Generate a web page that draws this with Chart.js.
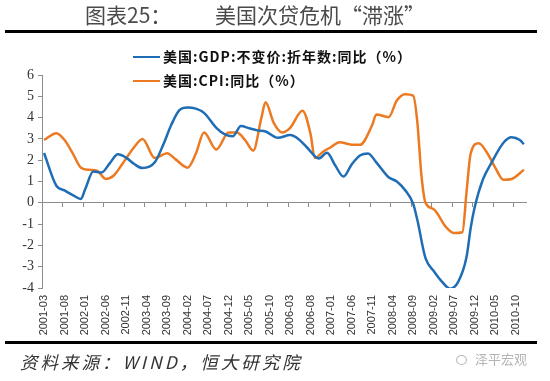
<!DOCTYPE html>
<html lang="zh-CN">
<head>
    <meta charset="utf-8">
    <title>美国次贷危机“滞涨”</title>

    <!-- JS -->
    <script src="https://cdn.jsdelivr.net/npm/chart.js"></script>

    <style>
        body {
            margin: 0;
            width: 550px;
            height: 381px;
            position: relative;
            overflow: hidden;
            background: #fff;
            font-family: "Noto Sans CJK SC", sans-serif;
        }
        #myChart { position: absolute; left: 0; top: 0; }
        .title { position: absolute; top: 0; font-size: 21px; line-height: 28px; color: #4a4a4a; white-space: nowrap; }
        .rule { position: absolute; left: 5px; width: 532px; height: 3px; background: #000; }
        .leg { position: absolute; left: 133px; height: 20px; line-height: 20px; font-size: 14px; font-weight: bold; letter-spacing: 1px; color: #111; white-space: nowrap; z-index: 2; }
        .leg i { display: inline-block; width: 27px; height: 2.5px; margin-right: 3px; vertical-align: middle; position: relative; top: -1px; }
        #source { position: absolute; left: 20px; top: 350px; font-size: 17.5px; line-height: 24px; letter-spacing: 3px; font-style: italic; color: #333; white-space: nowrap; }
        #mark { position: absolute; left: 456px; top: 350px; font-size: 13px; line-height: 18px; color: #b4b4b4; white-space: nowrap; }
        #mark b { display: inline-block; width: 9px; height: 8px; border: 1px solid #bbb; border-radius: 50%; margin-right: 8px; vertical-align: middle; font-weight: normal; }
    </style>
</head>
<body>
    <canvas id="myChart" width="550" height="381"></canvas>

    <div class="title" style="left:85px">图表25：</div>
    <div class="title" style="left:215px">美国次贷危机“滞涨”</div>
    <div class="rule" style="top:30px"></div>

    <div class="leg" id="leg1" style="top:46px"></div>
    <div class="leg" id="leg2" style="top:70px"></div>

    <div class="rule" style="top:341px"></div>
    <div id="source">资料来源：WIND，恒大研究院</div>
    <div id="mark"><b></b>泽平宏观</div>

    <script>
        // monthly categories, 2001-03 .. 2010-12
        var firstMonth = [2001, 3];
        var monthCount = 118;
        var months = [];
        for (var i = 0; i < monthCount; i++) {
            var t = firstMonth[1] - 1 + i;
            var yr = firstMonth[0] + Math.floor(t / 12);
            var mo = (t % 12) + 1;
            months.push(yr + "-" + (mo < 10 ? "0" + mo : mo));
        }
        var labelEvery = 5;

        var yTicks = [-4, -3, -2, -1, 0, 1, 2, 3, 4, 5, 6];

        // GDP (constant price, annualized, yoy %)
        var gdpMonths = ["2001-03","2001-06","2001-08","2001-10","2001-12","2002-01","2002-03","2002-05",
            "2002-07","2002-09","2002-11","2003-01","2003-03","2003-06","2003-08","2003-10","2003-12",
            "2004-02","2004-04","2004-06","2004-09","2004-11","2005-01","2005-03","2005-05","2005-07",
            "2005-09","2005-12","2006-03","2006-05","2006-07","2006-10","2006-12","2007-02","2007-04",
            "2007-06","2007-08","2007-10","2007-12","2008-03","2008-05","2008-07","2008-09","2008-10",
            "2008-12","2009-02","2009-04","2009-06","2009-08","2009-10","2009-11","2009-12","2010-02",
            "2010-04","2010-07","2010-09","2010-11","2010-12"];
        var gdpValues = [2.34, 0.8, 0.58, 0.36, 0.18, 0.62, 1.47, 1.42,
            1.85, 2.28, 2.12, 1.82, 1.63, 1.9, 2.7, 3.65, 4.35,
            4.48, 4.42, 4.22, 3.52, 3.22, 3.12, 3.6, 3.5, 3.4,
            3.35, 3.05, 3.18, 3.0, 2.62, 2.08, 2.35, 1.75, 1.23,
            1.8, 2.22, 2.32, 1.9, 1.2, 1.0, 0.6, -0.05, -0.8,
            -2.6, -3.2, -3.7, -4.03, -3.7, -2.55, -1.2, -0.2, 1.1,
            1.85, 2.82, 3.08, 2.95, 2.75];

        // CPI yoy %
        var cpiMonths = ["2001-03","2001-06","2001-08","2001-10","2001-12","2002-02","2002-04","2002-06",
            "2002-08","2002-10","2003-01","2003-03","2003-06","2003-09","2003-11","2004-02","2004-04",
            "2004-06","2004-09","2004-12","2005-02","2005-04","2005-06","2005-08","2005-09","2005-11",
            "2006-01","2006-03","2006-06","2006-08","2006-09","2006-11","2007-01","2007-03","2007-06",
            "2007-08","2007-11","2007-12","2008-03","2008-05","2008-07","2008-09","2008-10","2008-11",
            "2008-12","2009-02","2009-05","2009-07","2009-09","2009-10","2009-11","2010-01","2010-03",
            "2010-05","2010-07","2010-09","2010-12"];
        var cpiValues = [2.95, 3.27, 2.95, 2.32, 1.65, 1.55, 1.5, 1.12,
            1.28, 1.8, 2.62, 3.0, 2.1, 2.33, 2.05, 1.65, 2.3,
            3.3, 2.5, 3.3, 3.3, 2.95, 2.45, 4.0, 4.72, 3.75,
            3.3, 3.52, 4.32, 3.2, 2.1, 2.4, 2.62, 2.84, 2.73,
            2.72, 3.65, 4.15, 4.02, 4.8, 5.1, 5.03, 3.8, 1.3,
            0.0, -0.3, -1.14, -1.42, -1.38, 0.5, 2.3, 2.8, 2.35,
            1.65, 1.08, 1.12, 1.55];

        var seriesNames = ["美国:GDP:不变价:折年数:同比（%）", "美国:CPI:同比（%）"];
        var seriesColors = ["#1f6db4", "#ec7a22"];

        function pairs(ms, vs) {
            return ms.map(function (m, k) { return { x: m, y: vs[k] }; });
        }

        // tick marks on the zero line sit on category boundaries before every labelled month
        var zeroTicks = [];
        for (var k = labelEvery; k < monthCount; k += labelEvery) zeroTicks.push(k - 0.5);

        var ctx = document.getElementById("myChart").getContext("2d");
        var myChart = new Chart(ctx, {
            type: "line",
            data: {
                labels: months,
                datasets: [{
                    label: seriesNames[0],
                    data: pairs(gdpMonths, gdpValues),
                    borderColor: seriesColors[0],
                    borderWidth: 2.5,
                    pointRadius: 0,
                    cubicInterpolationMode: "monotone",
                    fill: false
                }, {
                    label: seriesNames[1],
                    data: pairs(cpiMonths, cpiValues),
                    borderColor: seriesColors[1],
                    borderWidth: 2.5,
                    pointRadius: 0,
                    cubicInterpolationMode: "monotone",
                    fill: false
                }]
            },
            options: {
                responsive: false,
                animation: false,
                devicePixelRatio: 1,
                layout: { padding: { top: 75, right: 24, bottom: 39, left: 0 } },
                plugins: { legend: { display: false }, tooltip: { enabled: false } },
                scales: {
                    x: {
                        type: "category",
                        offset: true,
                        grid: { display: false, drawTicks: false },
                        border: { display: false },
                        ticks: {
                            autoSkip: false,
                            minRotation: 90,
                            maxRotation: 90,
                            padding: 7,
                            color: "#333",
                            font: { family: "Liberation Sans", size: 11 },
                            callback: function (v, i) { return i % labelEvery === 0 ? months[i] : ""; }
                        },
                        afterFit: function (s) { s.height = 54; }
                    },
                    xZero: {
                        axis: "x",
                        type: "linear",
                        position: { y: 0 },
                        min: -0.5,
                        max: monthCount - 0.5,
                        grid: { drawOnChartArea: false, drawTicks: true, tickLength: 4, color: "#8c8c8c" },
                        border: { display: true, color: "#8c8c8c", width: 1 },
                        ticks: { display: false },
                        afterBuildTicks: function (s) {
                            s.ticks = zeroTicks.map(function (v) { return { value: v }; });
                        }
                    },
                    y: {
                        min: yTicks[0],
                        max: yTicks[yTicks.length - 1],
                        grid: { drawOnChartArea: false, tickLength: 4, color: "#8c8c8c" },
                        border: { color: "#8c8c8c", width: 1 },
                        ticks: {
                            stepSize: 1,
                            padding: 4,
                            color: "#333",
                            font: { family: "Liberation Serif", size: 14 }
                        },
                        afterBuildTicks: function (s) {
                            s.ticks = yTicks.map(function (v) { return { value: v }; });
                        },
                        afterFit: function (s) { s.width = 42; }
                    }
                }
            }
        });

        // legend rows from the datasets
        ["leg1", "leg2"].forEach(function (id, n) {
            var el = document.getElementById(id);
            var sw = document.createElement("i");
            sw.style.background = seriesColors[n];
            el.appendChild(sw);
            el.appendChild(document.createTextNode(myChart.data.datasets[n].label));
        });
    </script>
</body>
</html>
